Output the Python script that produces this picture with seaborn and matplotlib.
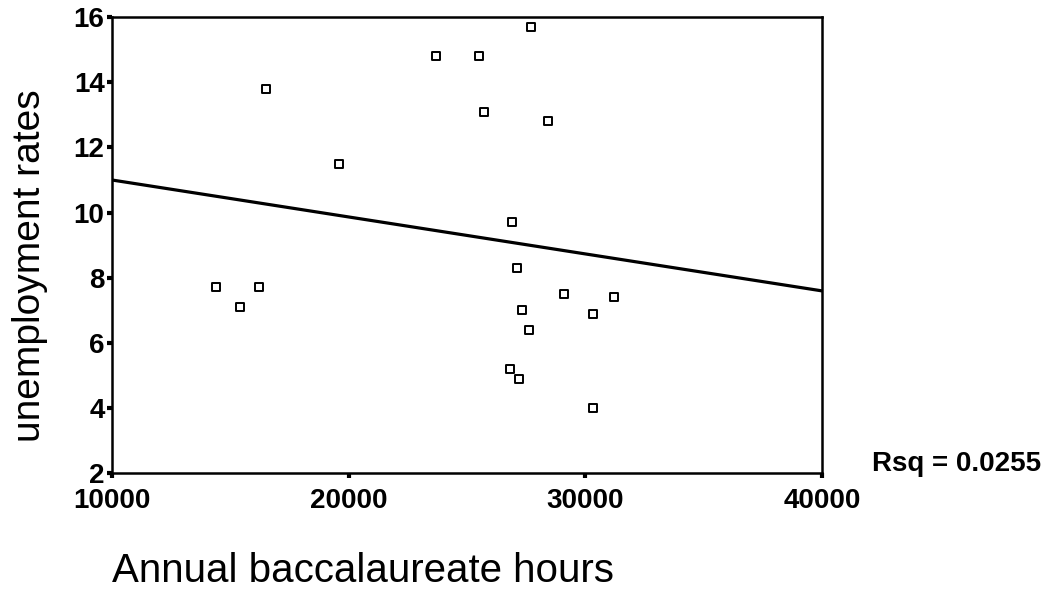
import pandas as pd
import seaborn as sns
import matplotlib.pyplot as plt

# values
hours = [16500, 23700, 25500, 27700, 25700, 28400, 19600, 26900,
         14400, 15400, 16200, 27100, 29100, 31200, 27300, 30300,
         27600, 26800, 27200, 30300]
unemployment = [13.8, 14.8, 14.8, 15.7, 13.1, 12.8, 11.5, 9.7,
                7.7, 7.1, 7.7, 8.3, 7.5, 7.4, 7.0, 6.9,
                6.4, 5.2, 4.9, 4.0]
x_ticks = [10000, 20000, 30000, 40000]
y_ticks = [2, 4, 6, 8, 10, 12, 14, 16]
rsq_text = "Rsq = 0.0255"

df = pd.DataFrame({"hours": hours, "unemployment": unemployment})

sns.set_theme(style="white")
plt.rcParams["font.family"] = ["Liberation Sans", "DejaVu Sans"]
plt.rcParams["text.color"] = "black"
plt.rcParams["axes.labelcolor"] = "black"
plt.rcParams["xtick.color"] = "black"
plt.rcParams["ytick.color"] = "black"

fig, ax = plt.subplots(figsize=(10.58, 5.9), dpi=100)
fig.subplots_adjust(left=0.106, right=0.777, top=0.971, bottom=0.198)

ax.set_xlim(10000, 40000)
ax.set_ylim(2, 16)

# linear fit drawn across the whole x range, like the SPSS output
sns.regplot(
    data=df, x="hours", y="unemployment", ax=ax,
    ci=None, truncate=False, color="black", marker="s",
    scatter_kws={"s": 36, "facecolors": "white", "edgecolors": "black",
                 "linewidths": 1.4, "alpha": 1, "zorder": 3},
    line_kws={"linewidth": 2.3},
)
ax.set_xlim(10000, 40000)
ax.set_ylim(2, 16)

ax.set_xticks(x_ticks)
ax.set_yticks(y_ticks)
ax.tick_params(axis="both", direction="out", length=3.5, width=3,
               bottom=True, left=True, labelsize=20)
ax.tick_params(axis="x", pad=7)
ax.tick_params(axis="y", pad=2)
for lab in ax.get_xticklabels() + ax.get_yticklabels():
    lab.set_fontweight("bold")

for side in ["top", "right", "bottom", "left"]:
    ax.spines[side].set_visible(True)
    ax.spines[side].set_color("black")
    ax.spines[side].set_linewidth(1.8)

ax.set_xlabel("Annual baccalaureate hours", fontsize=29, loc="left")
ax.xaxis.set_label_coords(0.0, -0.172)
ax.set_ylabel("unemployment rates", fontsize=28)
ax.yaxis.set_label_coords(-0.09, 0.455)

fig.text(872 / 1058, 1 - 464 / 590, rsq_text, fontsize=20,
         fontweight="bold", ha="left", va="center")

plt.savefig("out.png", dpi=100)
